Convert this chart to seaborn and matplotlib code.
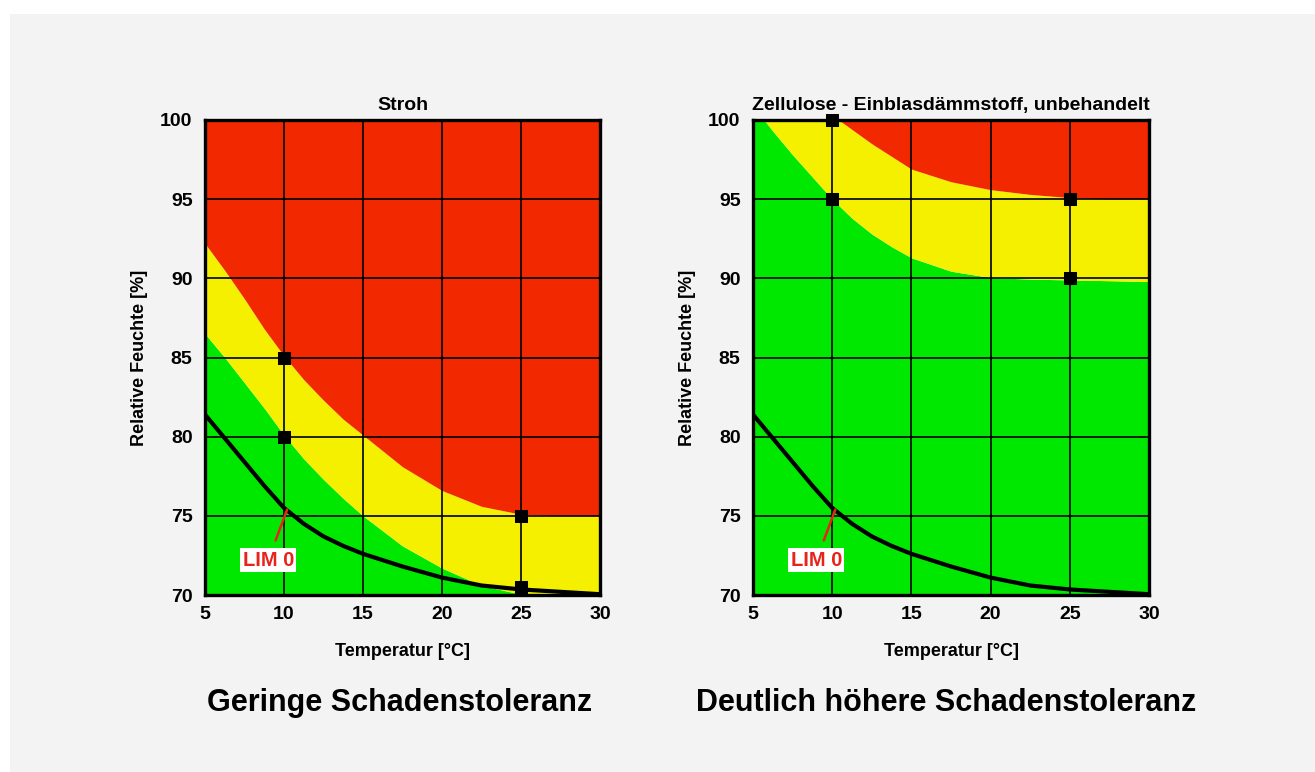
import numpy as np
import pandas as pd
import matplotlib
matplotlib.use('Agg')
import matplotlib.pyplot as plt
from matplotlib.patches import Rectangle
import seaborn as sns

# Werte (Temperatur in °C, relative Feuchte in %)
temp = [5, 6.25, 7.5, 8.75, 10, 11.25, 12.5, 13.75, 15, 17.5, 20, 22.5, 25, 27.5, 30]

# LIM 0 Kurve (gleich in beiden Diagrammen)
lim0 = [81.4, 79.9, 78.4, 76.9, 75.5, 74.5, 73.7, 73.1, 72.6, 71.8, 71.1, 70.6, 70.35, 70.2, 70.05]

# Stroh
stroh_gruen_oben = [86.5, 85.0, 83.4, 81.8, 80.1, 78.6, 77.3, 76.1, 75.0, 73.1, 71.7, 70.6, 70.05, 70.0, 70.0]
stroh_rot_unten = [92.2, 90.5, 88.7, 86.8, 85.1, 83.6, 82.3, 81.1, 80.1, 78.1, 76.6, 75.6, 75.1, 75.0, 75.0]
stroh_punkte_x = [10, 10, 25, 25]
stroh_punkte_y = [85, 80, 75, 70.5]

# Zellulose
zell_gruen_oben = [100.9, 99.3, 97.8, 96.4, 95.0, 93.8, 92.8, 92.0, 91.3, 90.45, 90.05, 89.95, 89.9, 89.85, 89.8]
zell_rot_unten = [103.0, 102.2, 101.5, 100.9, 100.3, 99.4, 98.5, 97.7, 96.9, 96.1, 95.6, 95.3, 95.1, 95.0, 95.0]
zell_punkte_x = [10, 10, 25, 25]
zell_punkte_y = [100, 95, 95, 90]

titel = ['Stroh', 'Zellulose - Einblasdämmstoff, unbehandelt']
untertitel = ['Geringe Schadenstoleranz', 'Deutlich höhere Schadenstoleranz']

x_ticks = [5, 10, 15, 20, 25, 30]
y_ticks = [70, 75, 80, 85, 90, 95, 100]

lim_text_pos = (9.0, 72.2)
lim_zeiger = (10.2, 75.4)

ROT = '#f22800'
GELB = '#f4f000'
GRUEN = '#00e800'
LIM_ROT = '#e8231b'

sns.set_theme(style='white')
plt.rcParams['font.family'] = ['Liberation Sans', 'DejaVu Sans']
plt.rcParams['font.weight'] = 'bold'
plt.rcParams['text.color'] = 'black'
plt.rcParams['axes.labelcolor'] = 'black'
plt.rcParams['xtick.color'] = 'black'
plt.rcParams['ytick.color'] = 'black'

fig = plt.figure(figsize=(13.15, 7.72), dpi=100)
fig.patch.set_facecolor('white')
fig.patches.append(Rectangle((10 / 1315, 0), 1, 1 - 14 / 772, transform=fig.transFigure,
                             facecolor='#f3f3f3', edgecolor='none', zorder=-5))

positionen = [[205 / 1315, 1 - 595 / 772, 395 / 1315, 475 / 772],
              [753 / 1315, 1 - 595 / 772, 396 / 1315, 475 / 772]]
gruen_oben = [stroh_gruen_oben, zell_gruen_oben]
rot_unten = [stroh_rot_unten, zell_rot_unten]
punkte = [(stroh_punkte_x, stroh_punkte_y), (zell_punkte_x, zell_punkte_y)]
untertitel_x = [400 / 1315, 946 / 1315]

for i in range(2):
    ax = fig.add_axes(positionen[i])
    df = pd.DataFrame({'Temperatur': temp, 'LIM0': lim0,
                       'gruen': gruen_oben[i], 'rot': rot_unten[i]})

    # Farbzonen
    ax.fill_between(df['Temperatur'], 60, df['gruen'], color=GRUEN, lw=0, zorder=1)
    ax.fill_between(df['Temperatur'], df['gruen'], df['rot'], color=GELB, lw=0, zorder=1)
    ax.fill_between(df['Temperatur'], df['rot'], 110, color=ROT, lw=0, zorder=1)

    # LIM 0 Kurve
    sns.lineplot(data=df, x='Temperatur', y='LIM0', color='black', lw=3,
                 ax=ax, zorder=4)

    # Messpunkte
    sns.scatterplot(x=punkte[i][0], y=punkte[i][1], marker='s', s=85,
                    color='black', edgecolor='black', ax=ax, zorder=5, clip_on=False)

    ax.annotate('LIM 0', xy=lim_zeiger, xytext=lim_text_pos,
                ha='center', va='center', fontsize=14.5, fontweight='bold',
                color=LIM_ROT,
                bbox=dict(boxstyle='square,pad=0.12', fc='white', ec='none'),
                arrowprops=dict(arrowstyle='-', color=LIM_ROT, lw=1.8,
                                shrinkA=6, shrinkB=0),
                zorder=6)

    ax.set_xlim(5, 30)
    ax.set_ylim(70, 100)
    ax.set_xticks(x_ticks)
    ax.set_yticks(y_ticks)
    ax.set_axisbelow(False)
    ax.grid(True, color='black', lw=1.2, zorder=3)
    ax.tick_params(axis='both', length=0, labelsize=14)
    ax.tick_params(axis='x', pad=8)
    ax.tick_params(axis='y', pad=9)
    for lab in ax.get_xticklabels() + ax.get_yticklabels():
        lab.set_fontweight('bold')
    for sp in ax.spines.values():
        sp.set_visible(True)
        sp.set_color('black')
        sp.set_linewidth(2.4)
        sp.set_zorder(6)

    ax.set_xlabel('Temperatur [°C]', fontsize=13, fontweight='bold', labelpad=14)
    ax.set_ylabel('Relative Feuchte [%]', fontsize=13, fontweight='bold', labelpad=9)
    ax.set_title(titel[i], fontsize=14, fontweight='bold', pad=7)

    fig.text(untertitel_x[i], 1 - 703 / 772, untertitel[i], ha='center', va='center',
             fontsize=22, fontweight='bold')

fig.savefig('out.png', dpi=100, facecolor=fig.get_facecolor())
